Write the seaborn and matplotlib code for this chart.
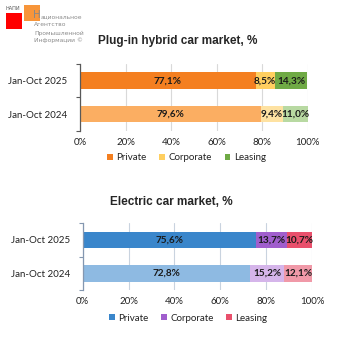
import matplotlib
matplotlib.use("Agg")
import matplotlib.pyplot as plt
from matplotlib.patches import Patch, Rectangle
import seaborn as sns
import pandas as pd

sns.set_style("white")
plt.rcParams['font.family'] = ['Lato', 'DejaVu Sans']

periods = ["Jan-Oct 2025", "Jan-Oct 2024"]
segments = ["Private", "Corporate", "Leasing"]

phev_private = [77.1, 79.6]
phev_corporate = [8.5, 9.4]
phev_leasing = [14.3, 11.0]

ev_private = [75.6, 72.8]
ev_corporate = [13.7, 15.2]
ev_leasing = [10.7, 12.1]

xticks = [0, 20, 40, 60, 80, 100]
xtick_labels = ["0%", "20%", "40%", "60%", "80%", "100%"]

phev_colors = {
    "Private": ["#F47F20", "#FBAE62"],
    "Corporate": ["#FFCF60", "#FEE2A2"],
    "Leasing": ["#6FAA45", "#B8D9A2"],
}
ev_colors = {
    "Private": ["#3A86CB", "#8EBAE2"],
    "Corporate": ["#A05ECD", "#D5B5EA"],
    "Leasing": ["#E9506C", "#F099A8"],
}


def fmt(v):
    return f"{v:.1f}%".replace(".", ",")


def stacked_panel(fig, rect, title, title_xy, values, colors, spine_color, grid_color, legend_xy):
    ax = fig.add_axes(rect)
    private, corporate, leasing = values
    cum = {
        "Leasing": [p + c + l for p, c, l in zip(private, corporate, leasing)],
        "Corporate": [p + c for p, c in zip(private, corporate)],
        "Private": list(private),
    }
    starts = {
        "Private": [0, 0],
        "Corporate": list(private),
        "Leasing": [p + c for p, c in zip(private, corporate)],
    }
    seg_vals = {"Private": private, "Corporate": corporate, "Leasing": leasing}
    for seg in ["Leasing", "Corporate", "Private"]:
        df = pd.DataFrame({"period": periods, "value": cum[seg]})
        sns.barplot(data=df, x="value", y="period", hue="period", order=periods,
                    hue_order=periods, palette=dict(zip(periods, colors[seg])),
                    orient="h", width=0.5, dodge=False, legend=False,
                    saturation=1, linewidth=0, ax=ax, zorder=3)
    for seg in segments:
        for i in range(len(periods)):
            v = seg_vals[seg][i]
            ax.text(starts[seg][i] + v / 2, i, fmt(v), ha="center", va="center",
                    fontsize=7.2, fontweight="bold", color="#1a1a1a", zorder=5)
    ax.set_xlim(0, 100)
    ax.set_ylim(1.5, -0.5)
    ax.set_xticks(xticks)
    ax.set_xticklabels(xtick_labels)
    ax.set_yticks([-0.5, 0.5, 1.5], minor=False)
    ax.set_yticks([0, 1], minor=True)
    ax.set_yticklabels(["", "", ""])
    ax.set_yticklabels(periods, minor=True)
    ax.tick_params(axis="y", which="major", length=3, width=0.8, color=spine_color, direction="out", left=True)
    ax.tick_params(axis="y", which="minor", length=0, labelsize=7.0, pad=9, colors="#222222")
    ax.tick_params(axis="x", length=0, labelsize=7.0, pad=5, colors="#222222")
    ax.set_xlabel("")
    ax.set_ylabel("")
    ax.grid(axis="x", color=grid_color, linewidth=0.8, zorder=0)
    for s in ["top", "right", "bottom"]:
        ax.spines[s].set_visible(False)
    ax.spines["left"].set_color(spine_color)
    ax.spines["left"].set_linewidth(0.9)
    ax.spines["left"].set_zorder(6)
    fig.text(title_xy[0] / 338, 1 - title_xy[1] / 338, title, ha="center", va="center",
             fontsize=8.5, fontweight="bold", family=["Liberation Sans", "DejaVu Sans"])
    handles = [Patch(facecolor=colors[s][0], edgecolor="none") for s in segments]
    fig.legend(handles, segments, loc="center", bbox_to_anchor=(legend_xy[0] / 338, 1 - legend_xy[1] / 338),
               ncol=3, frameon=False, fontsize=7.0, handlelength=0.6, handleheight=0.6,
               handletextpad=0.35, columnspacing=1.3, labelcolor="#222222")
    return ax


fig = plt.figure(figsize=(3.38, 3.38), dpi=100)

stacked_panel(fig, [80 / 338, 1 - 130.7 / 338, 227.7 / 338, 66.7 / 338],
              "Plug-in hybrid car market, %", (177.5, 40.7),
              (phev_private, phev_corporate, phev_leasing), phev_colors,
              "#595959", "#D9D9D9", (186.5, 157.7))

stacked_panel(fig, [82.7 / 338, 1 - 290 / 338, 229.3 / 338, 66.7 / 338],
              "Electric car market, %", (171, 201.7),
              (ev_private, ev_corporate, ev_leasing), ev_colors,
              "#8497B0", "#C9D3DF", (188, 318.3))

# publisher mark in the corner
fig.patches.append(Rectangle((6 / 338, 1 - 29 / 338), 16 / 338, 16 / 338,
                             transform=fig.transFigure, facecolor="#FF0000", edgecolor="none"))
fig.patches.append(Rectangle((24 / 338, 1 - 21 / 338), 16 / 338, 16 / 338,
                             transform=fig.transFigure, facecolor="#F7953A", edgecolor="none"))
fig.text(6 / 338, 1 - 8.5 / 338, "НАПИ", fontsize=3.6, color="#555555", va="center", ha="left",
         family=["DejaVu Sans"])
fig.text(33 / 338, 1 - 15.5 / 338, "Н", fontsize=7.5, color="#888888", va="center", ha="left",
         family=["DejaVu Sans Condensed", "DejaVu Sans"])
logo_lines = ["ациональное", "Агентство", "Промышленной", "Информации ©"]
logo_x = [40.5, 34, 34, 34]
logo_y = [17, 25, 33, 40]
for txt, lx, ly in zip(logo_lines, logo_x, logo_y):
    fig.text(lx / 338, 1 - ly / 338, txt, fontsize=4.3, color="#8A8A8A", va="center", ha="left",
             family=["DejaVu Sans Condensed", "DejaVu Sans"])

fig.savefig("out.png", dpi=100, facecolor="white")
